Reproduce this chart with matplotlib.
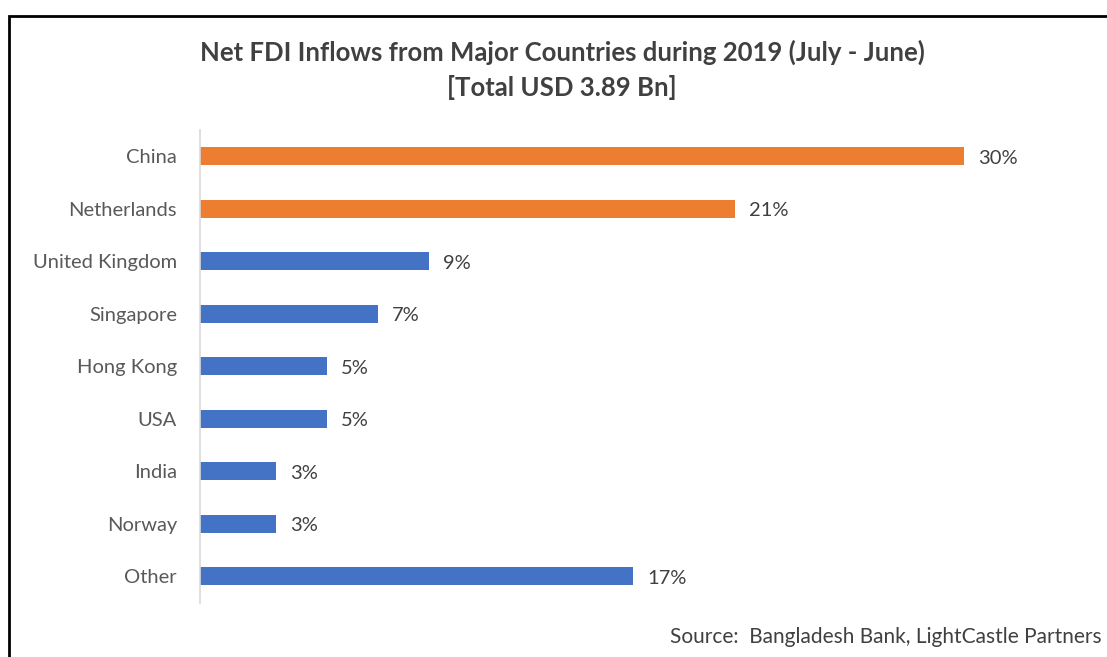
import matplotlib.pyplot as plt
from matplotlib.patches import Rectangle

# Net FDI inflow share by source country, FY2019
countries = ['China', 'Netherlands', 'United Kingdom', 'Singapore', 'Hong Kong',
             'USA', 'India', 'Norway', 'Other']
shares = [30, 21, 9, 7, 5, 5, 3, 3, 17]
highlight = ['China', 'Netherlands']

plt.rcParams['font.family'] = ['Lato', 'DejaVu Sans']

W, H = 1107, 657
fig = plt.figure(figsize=(W / 100, H / 100), dpi=100)

# axes placed in pixel terms: left edge 200, top 130, bottom 603
left, right, top, bottom = 200, 1080, 130, 602.5
ax = fig.add_axes([left / W, 1 - bottom / H, (right - left) / W, (bottom - top) / H])

px_per_pct = 764 / 30
colors = ['#ED7D31' if c in highlight else '#4472C4' for c in countries]
y = list(range(len(countries)))
ax.barh(y, shares, height=0.35, color=colors)
ax.set_ylim(len(countries) - 0.5, -0.5)
ax.set_xlim(0, (right - left) / px_per_pct)

for yi, v in zip(y, shares):
    ax.annotate(f'{v}%', (v, yi), xytext=(14, -2), textcoords='offset pixels',
                va='center', ha='left', fontsize=14.5, color='#404040')

ax.set_yticks(y)
ax.set_yticklabels(countries, fontsize=14.5, color='#595959')
ax.tick_params(axis='y', length=0, pad=16.5)
ax.set_xticks([])
for s in ['top', 'right', 'bottom']:
    ax.spines[s].set_visible(False)
ax.spines['left'].set_color('#D9D9D9')
ax.spines['left'].set_linewidth(1.2)

fig.text(562 / W, 1 - 52 / H, 'Net FDI Inflows from Major Countries during 2019 (July - June)',
         ha='center', va='center', fontsize=18.5, fontweight='bold', color='#404040')
fig.text(562 / W, 1 - 87 / H, '[Total USD 3.89 Bn]',
         ha='center', va='center', fontsize=18.5, fontweight='bold', color='#404040')
fig.text(670 / W, 1 - 637 / H, 'Source:  Bangladesh Bank, LightCastle Partners',
         ha='left', va='center', fontsize=15, color='#404040')

# outer frame, running off the right and bottom edges
fig.patches.append(Rectangle((9 / W, -0.1), 1.2, 1.1 - 16 / H, transform=fig.transFigure,
                             fill=False, edgecolor='black', linewidth=2, clip_on=False))

fig.savefig('out.png', dpi=100)
